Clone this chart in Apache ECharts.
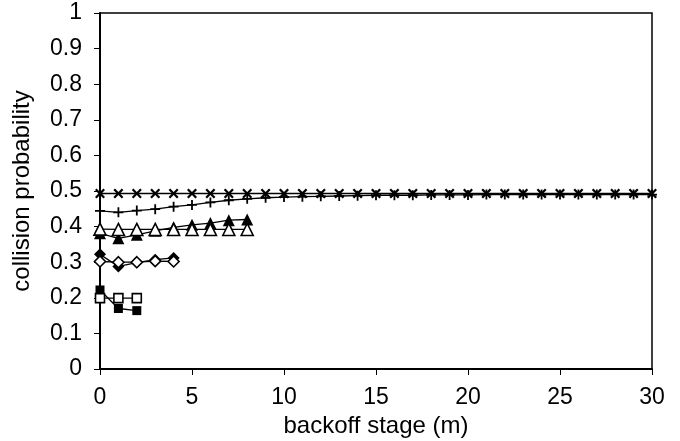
<!DOCTYPE html>
<html><head><meta charset="utf-8">
<script src="https://cdn.jsdelivr.net/npm/echarts@6/dist/echarts.min.js"></script>
<style>html,body{margin:0;padding:0;background:#fff}#c{width:680px;height:441px}</style>
</head><body><div id="c"></div>
<script>
// backoff stages (x) for each series
var stages31 = [0,1,2,3,4,5,6,7,8,9,10,11,12,13,14,15,16,17,18,19,20,21,22,23,24,25,26,27,28,29,30];
var stages9 = [0,1,2,3,4,5,6,7,8];
var stages5 = [0,1,2,3,4];
var stages3 = [0,1,2];
// collision probability values
var crossVals = [0.493,0.493,0.493,0.493,0.493,0.493,0.493,0.493,0.493,0.493,0.493,0.493,0.493,0.493,0.493,0.493,0.493,0.493,0.493,0.493,0.493,0.493,0.493,0.493,0.493,0.493,0.493,0.493,0.493,0.493,0.493];
var plusVals = [0.444,0.440,0.445,0.449,0.456,0.461,0.468,0.474,0.478,0.481,0.483,0.484,0.485,0.486,0.487,0.488,0.488,0.488,0.489,0.489,0.489,0.490,0.490,0.490,0.490,0.490,0.490,0.490,0.490,0.490,0.490];
var triOpenVals = [0.393,0.392,0.392,0.392,0.392,0.392,0.392,0.392,0.392];
var triFilledVals = [0.381,0.367,0.377,0.388,0.398,0.405,0.410,0.418,0.420];
var diaOpenVals = [0.302,0.300,0.300,0.303,0.302];
var diaFilledVals = [0.322,0.288,0.299,0.307,0.312];
var sqOpenVals = [0.199,0.199,0.199];
var sqFilledVals = [0.222,0.170,0.164];
var yTicks = ['0','0.1','0.2','0.3','0.4','0.5','0.6','0.7','0.8','0.9','1'];

function pairs(xs, ys){ return xs.map(function(x,i){ return [x, ys[i]]; }); }
var crossPath = 'path://M0,1.6L1.6,0L5,3.4L8.4,0L10,1.6L6.6,5L10,8.4L8.4,10L5,6.6L1.6,10L0,8.4L3.4,5Z';
var plusPath = 'path://M4.1,0H5.9V4.1H10V5.9H5.9V10H4.1V5.9H0V4.1H4.1Z';

function mk(name, xs, ys, symbol, size, filled){
  return {
    name: name, type: 'line', data: pairs(xs, ys),
    symbol: symbol, symbolSize: size, showSymbol: true, showAllSymbol: true,
    lineStyle: {color: '#000', width: 1.3},
    itemStyle: {color: filled ? '#000' : '#fff', borderColor: '#000', borderWidth: filled ? 0 : 1.6},
    emphasis: {disabled: true}, animation: false, z: filled ? 3 : 4
  };
}

var chart = echarts.init(document.getElementById('c'));
chart.setOption({
  animation: false,
  grid: {left: 100, right: 28, top: 13, bottom: 72, show: true, borderColor: '#000', borderWidth: 1.5,
         backgroundColor: 'transparent', containLabel: false, outerBoundsMode: 'none'},
  xAxis: {
    type: 'value', min: 0, max: 30, interval: 5,
    name: 'backoff stage (m)', nameLocation: 'middle', nameGap: 44,
    nameTextStyle: {fontFamily: 'Liberation Sans', fontSize: 24, color: '#000'},
    axisLine: {show: true, onZero: false, lineStyle: {color: '#000', width: 2}},
    axisTick: {show: true, inside: false, length: 6, lineStyle: {color: '#000', width: 1}},
    axisLabel: {fontFamily: 'Liberation Sans', fontSize: 23, color: '#000', margin: 17},
    splitLine: {show: false}
  },
  yAxis: {
    type: 'value', min: 0, max: 1, interval: 0.1,
    name: 'collision probability', nameLocation: 'middle', nameGap: 66,
    nameTextStyle: {fontFamily: 'Liberation Sans', fontSize: 24, color: '#000'},
    axisLine: {show: true, lineStyle: {color: '#000', width: 2}},
    axisTick: {show: true, inside: false, length: 6, lineStyle: {color: '#000', width: 1}},
    axisLabel: {fontFamily: 'Liberation Sans', fontSize: 23, color: '#000', margin: 18,
      formatter: function(v){ return yTicks[Math.round(v*10)]; }},
    splitLine: {show: false}
  },
  series: [
    mk('cross', stages31, crossVals, crossPath, 10, true),
    mk('plus', stages31, plusVals, plusPath, 10, true),
    mk('triFilled', stages9, triFilledVals, 'triangle', 12, true),
    mk('triOpen', stages9, triOpenVals, 'triangle', 12, false),
    mk('diaFilled', stages5, diaFilledVals, 'diamond', 12, true),
    mk('diaOpen', stages5, diaOpenVals, 'diamond', 11, false),
    mk('sqFilled', stages3, sqFilledVals, 'rect', 9, true),
    mk('sqOpen', stages3, sqOpenVals, 'rect', 9, false)
  ]
});
</script></body></html>
